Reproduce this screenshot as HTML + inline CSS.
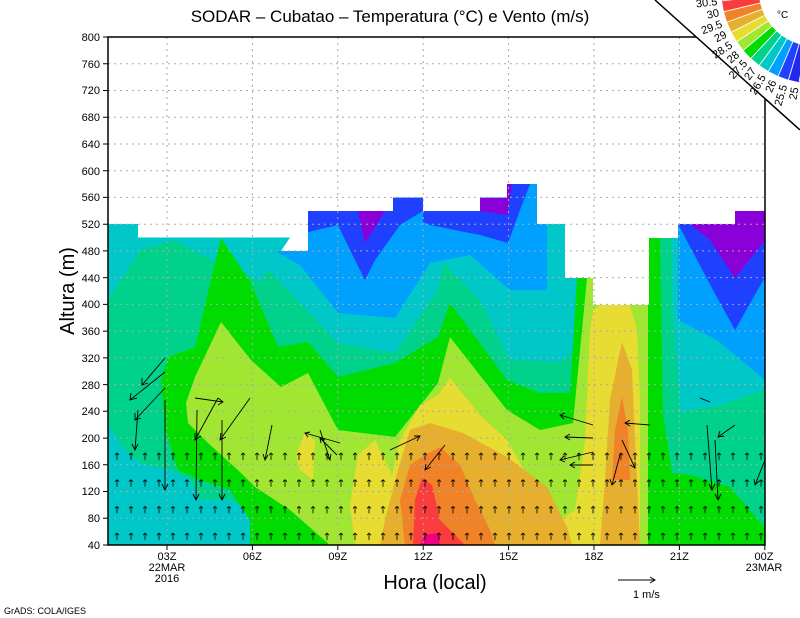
<!DOCTYPE html>
<html><head><meta charset="utf-8"><style>
body{margin:0;background:#fff;width:800px;height:618px;overflow:hidden}
svg{position:absolute;left:0;top:0}
</style></head><body>
<svg width="800" height="618" xmlns="http://www.w3.org/2000/svg" font-family="Liberation Sans, sans-serif">
<defs>
<pattern id="ar" x="110" y="438" width="14" height="26.7" patternUnits="userSpaceOnUse">
<path d="M7 22V15M5 17L7 15L9 17" stroke="#000" stroke-width="0.8" fill="none"/>
</pattern>
</defs>
<polygon fill="#00d28c" points="108,545 108,224 138,224 138,237.5 252,237.5 252,251 308,251 308,211 393,211 393,197.6 423,197.6 423,211 480,211 480,197.6 507,197.6 507,184 537,184 537,224 565,224 565,278 593,278 593,305 649,305 649,238 678,238 678,224 735,224 735,211 765,211 765,545"/>
<polygon fill="#00c8c8" points="108,224 138,224 138,237.5 290,237.5 275,260 260,282 240,270 215,262 175,240 140,250 108,300"/>
<polygon fill="#00c8c8" points="252,251 308,251 308,211 393,211 393,197.6 423,197.6 423,211 480,211 480,197.6 507,197.6 507,184 537,184 537,224 565,224 565,278 577,278 575,350 560,362 510,360 480,300 443,263 438,290 395,353 338,343 278,280"/>
<polygon fill="#00c8c8" points="672,238 678,238 678,224 735,224 735,211 765,211 765,390 720,405 680,412 672,300"/>
<polygon fill="#00c8c8" points="108,425 125,450 140,463 170,470 190,480 200,500 230,500 250,510 250,545 108,545"/>
<polygon fill="#00a0ff" points="275,251 308,251 308,211 393,211 393,197.6 423,197.6 423,211 480,211 480,197.6 507,197.6 507,184 537,184 537,224 547,224 547,290 510,290 470,255 430,263 395,318 338,313 300,265"/>
<polygon fill="#00a0ff" points="678,224 735,224 735,211 765,211 765,380 717,340 678,320"/>
<polygon fill="#2040ff" points="308,211 393,211 393,197.6 423,197.6 423,211 400,225 375,260 365,280 350,250 338,225 308,232"/>
<polygon fill="#2040ff" points="423,211 480,211 480,197.6 507,197.6 507,184 530,184 520,210 508,243 480,235 430,225 423,222"/>
<polygon fill="#2040ff" points="678,224 735,224 735,211 765,211 765,277 735,330 713,290"/>
<polygon fill="#8a00d8" points="358,211 385,211 365,243"/>
<polygon fill="#8a00d8" points="480,198 507,198 507,184 512,184 507,215 480,211"/>
<polygon fill="#8a00d8" points="690,224 735,224 735,211 765,211 765,240 735,278 710,240"/>
<polygon fill="#00dc00" points="250,545 250,520 230,490 200,480 178,470 165,430 161,380 168,357 195,347 221,238 251,283 278,347 308,342 338,377 395,363 438,337 450,303 507,380 540,393 570,393 577,278 593,278 593,305 649,305 649,238 660,238 663,413 672,473 690,475 730,487 765,528 765,545"/>
<polygon fill="#a0e632" points="186,403 195,377 221,322 251,360 281,387 308,373 338,430 395,437 438,383 450,337 507,410 540,430 573,423 587,278 593,278 593,305 648,305 648,545 330,545 290,510 255,487 241,473 208,443 188,423"/>
<polygon fill="#e6dc32" points="296,455 305,433 315,440 313,480 300,470"/>
<polygon fill="#e6dc32" points="355,545 350,505 358,455 375,440 392,475 400,440 420,405 438,395 450,378 480,415 507,440 530,480 560,520 575,510 585,440 590,330 593,310 600,305 630,305 637,330 640,400 640,545"/>
<polygon fill="#e6af2d" points="380,545 385,520 398,470 410,430 430,423 463,433 507,457 547,487 567,527 572,545"/>
<polygon fill="#e6af2d" points="622,342 632,370 635,440 640,545 600,545 605,480 610,400"/>
<polygon fill="#f08228" points="405,545 400,500 410,465 425,455 440,447 460,465 475,500 490,530 495,545"/>
<polygon fill="#f08228" points="622,397 628,430 630,480 612,480 615,430"/>
<polygon fill="#fa3c3c" points="413,545 415,500 422,478 432,485 440,520 465,545"/>
<polygon fill="#f00082" points="420,545 425,535 438,533 440,545"/>
<g stroke="#aaa" stroke-dasharray="2,4" stroke-width="1">
<path d="M108 518.3H765M108 491.5H765M108 464.8H765M108 438.1H765M108 411.3H765M108 384.6H765M108 357.9H765M108 331.1H765M108 304.4H765M108 277.6H765M108 250.9H765M108 224.2H765M108 197.4H765M108 170.7H765M108 144H765M108 117.2H765M108 90.5H765M108 63.8H765"/>
<path d="M167 37V545M252.4 37V545M337.8 37V545M423.2 37V545M508.6 37V545M594 37V545M679.4 37V545"/>
</g>
<rect x="108" y="438" width="657" height="107" fill="url(#ar)"/>
<g stroke="#000" stroke-width="0.9" fill="none">
<path d="M165 358L142 385M142 378L142 385L148 383"/>
<path d="M165 372L130 400M131 393L130 400L137 398"/>
<path d="M165 388L135 420M135 413L135 420L141 418"/>
<path d="M165 400V490M162 484L165 490L168 484"/>
<path d="M138 410L135 450M132 444L135 450L138 444"/>
<path d="M195 398L223 402M218 398L223 402L218 405"/>
<path d="M218 398L195 440M195 433L195 440L201 436"/>
<path d="M250 398L220 440M221 433L220 440L226 437"/>
<path d="M197 410L196 500M193 494L196 500L199 494"/>
<path d="M222 420L222 500M219 494L222 500L225 494"/>
<path d="M272 425L265 460M263 454L265 460L268 455"/>
<path d="M320 430L330 460M326 455L330 460L331 454"/>
<path d="M340 443L305 433M310 432L305 433L308 437"/>
<path d="M337 455L320 438M321 443L320 438L325 440"/>
<path d="M390 450L420 436M414 436L420 436L417 441"/>
<path d="M445 445L425 470M426 464L425 470L431 467"/>
<path d="M593 425L560 415M565 413L560 415L564 419"/>
<path d="M593 438L565 437M570 434L565 437L570 440"/>
<path d="M593 452L560 460M564 456L560 460L565 462"/>
<path d="M593 465L570 465M575 462L570 465L575 468"/>
<path d="M650 425L625 423M630 420L625 423L630 426"/>
<path d="M622 440L635 468M630 465L635 468L635 462"/>
<path d="M620 455L612 485M610 479L612 485L616 481"/>
<path d="M735 425L718 437M720 431L718 437L724 436"/>
<path d="M707 425L712 490M709 484L712 490L715 484"/>
<path d="M715 440L718 500M715 494L718 500L721 494"/>
<path d="M765 460L755 485M754 479L755 485L759 481"/>
<path d="M700 398L710 402"/>
</g>
<rect x="108" y="37" width="657" height="508" fill="none" stroke="#000" stroke-width="1.5"/>
<g stroke="#000"><path d="M103 545H108M103 518.3H108M103 491.5H108M103 464.8H108M103 438.1H108M103 411.3H108M103 384.6H108M103 357.9H108M103 331.1H108M103 304.4H108M103 277.6H108M103 250.9H108M103 224.2H108M103 197.4H108M103 170.7H108M103 144H108M103 117.2H108M103 90.5H108M103 63.8H108M103 37H108"/>
<path d="M167 545V550M252.4 545V550M337.8 545V550M423.2 545V550M508.6 545V550M594 545V550M679.4 545V550M764.8 545V550"/></g>
<g font-size="11" text-anchor="end">
<text x="100" y="549">40</text><text x="100" y="522">80</text><text x="100" y="495">120</text><text x="100" y="469">160</text><text x="100" y="442">200</text><text x="100" y="415">240</text><text x="100" y="389">280</text><text x="100" y="362">320</text><text x="100" y="335">360</text><text x="100" y="308">400</text><text x="100" y="282">440</text><text x="100" y="255">480</text><text x="100" y="228">520</text><text x="100" y="201">560</text><text x="100" y="175">600</text><text x="100" y="148">640</text><text x="100" y="121">680</text><text x="100" y="94">720</text><text x="100" y="68">760</text><text x="100" y="41">800</text>
</g>
<g font-size="11" text-anchor="middle">
<text x="167" y="560">03Z</text><text x="252.4" y="560">06Z</text><text x="337.8" y="560">09Z</text><text x="423.2" y="560">12Z</text><text x="508.6" y="560">15Z</text><text x="594" y="560">18Z</text><text x="679.4" y="560">21Z</text><text x="764" y="560">00Z</text>
<text x="167" y="571">22MAR</text><text x="167" y="582">2016</text><text x="764" y="571">23MAR</text>
</g>
<text x="390" y="22" font-size="17" text-anchor="middle">SODAR – Cubatao – Temperatura (°C) e Vento (m/s)</text>
<text x="435" y="589" font-size="20" text-anchor="middle">Hora (local)</text>
<text transform="translate(74,291) rotate(-90)" font-size="20" text-anchor="middle">Altura (m)</text>
<text x="4" y="614" font-size="9">GrADS: COLA/IGES</text>
<path d="M618 580H655M650 577L655 580L650 583" stroke="#000" fill="none"/><text x="633" y="598" font-size="11">1  m/s</text>
<polygon points="655,0 800,0 800,130" fill="#fff"/>
<line x1="655" y1="0" x2="800" y2="130" stroke="#000" stroke-width="1.5"/>
<g stroke="#fff" stroke-width="0.8">
<path fill="#f00082" d="M759 -10L721 -10L721.6 1L759.4 -3.5Z"/>
<path fill="#fa3c3c" d="M759.4 -3.5L721.6 1L723.5 11.8L760.5 3Z"/>
<path fill="#f08228" d="M760.5 3L723.5 11.8L726.7 22.3L762.4 9.2Z"/>
<path fill="#e6af2d" d="M762.4 9.2L726.7 22.3L731.1 32.3L765 15.2Z"/>
<path fill="#e6dc32" d="M765 15.2L731.1 32.3L736.6 41.8L768.3 20.9Z"/>
<path fill="#a0e632" d="M768.3 20.9L736.6 41.8L743.1 50.6L772.2 26.1Z"/>
<path fill="#00dc00" d="M772.2 26.1L743.1 50.6L750.7 58.6L776.7 30.8Z"/>
<path fill="#00d28c" d="M776.7 30.8L750.7 58.6L759.1 65.6L781.7 35Z"/>
<path fill="#00c8c8" d="M781.7 35L759.1 65.6L768.3 71.6L787.2 38.6Z"/>
<path fill="#00a0ff" d="M787.2 38.6L768.3 71.6L778.1 76.5L793 41.5Z"/>
<path fill="#2040ff" d="M793 41.5L778.1 76.5L788.4 80.2L799.2 43.7Z"/>
<path fill="#2028f0" d="M799.2 43.7L788.4 80.2L799.1 82.6L805.5 45.2Z"/>
<path fill="#8a00d8" d="M805.5 45.2L799.1 82.6L810 83.9L812 45.9Z"/>
</g>
<g font-size="11" text-anchor="end">
<text transform="translate(717.7,5) rotate(-6.7)">30.5</text>
<text transform="translate(719.7,16) rotate(-13.4)">30</text>
<text transform="translate(723,27) rotate(-20.1)">29.5</text>
<text transform="translate(727.5,37) rotate(-26.8)">29</text>
<text transform="translate(733.2,47) rotate(-33.5)">28.5</text>
<text transform="translate(740.1,56) rotate(-40.1)">28</text>
<text transform="translate(748,64) rotate(-46.8)">27.5</text>
<text transform="translate(756.7,71) rotate(-53.5)">27</text>
<text transform="translate(766.3,77) rotate(-60.2)">26.5</text>
<text transform="translate(776.6,82) rotate(-66.9)">26</text>
<text transform="translate(787.3,86) rotate(-73.6)">25.5</text>
<text transform="translate(798.5,88) rotate(-80.3)">25</text>
</g>
<text x="777" y="18" font-size="10">°C</text>
</svg>
</body></html>
